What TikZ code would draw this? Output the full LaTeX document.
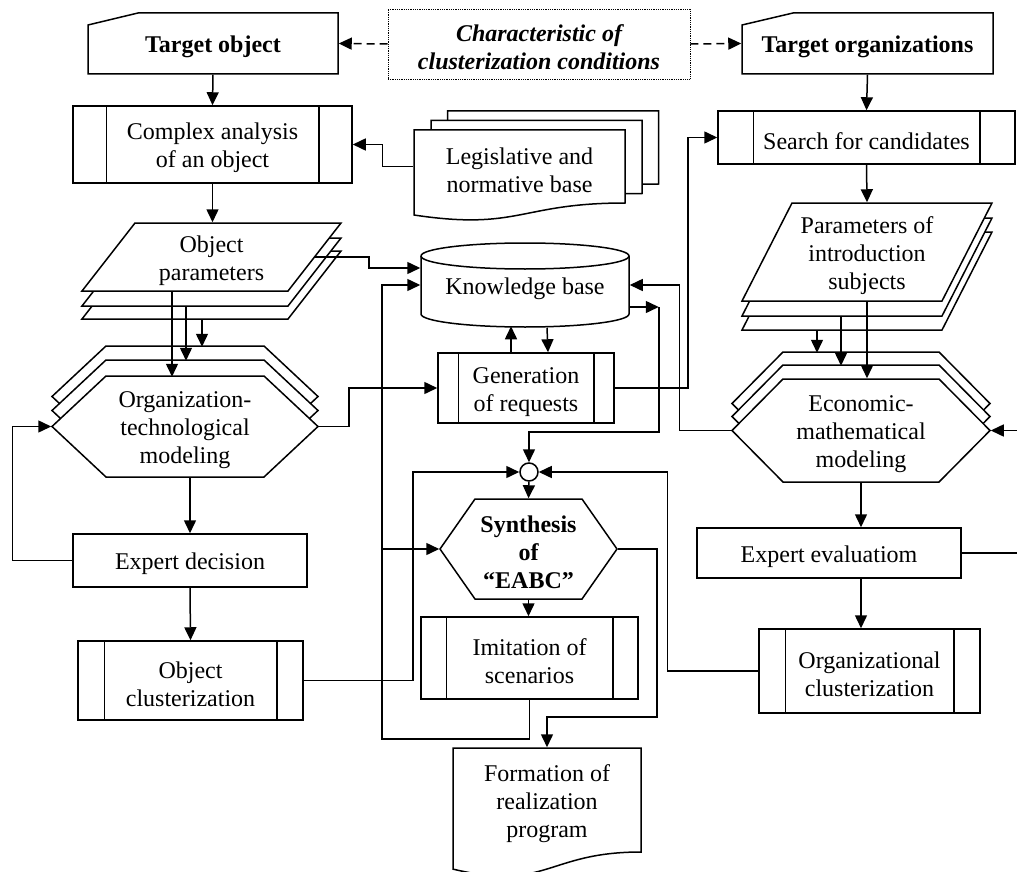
\documentclass[tikz,border=0pt]{standalone}
\usepackage{fontspec}
\setmainfont{Liberation Serif}
\usetikzlibrary{arrows.meta,calc}
\newcommand\hexshape[5]{%
  \draw[shp] (#1,{(#3+#4)/2}) -- ({#1+#5},#3) -- ({#2-#5},#3) -- (#2,{(#3+#4)/2}) -- ({#2-#5},#4) -- ({#1+#5},#4) -- cycle;}
\newcommand\pgram[5]{%
  \draw[shp] (#1,#4) -- ({#1+#5},#3) -- ({#2+#5},#3) -- (#2,#4) -- cycle;}
\newcommand\docshape[4]{%
  \draw[shp] (#1,#3) -- (#2,#3) -- (#2,{#3+#4}) .. controls ({(#1+#2)/2},{#3+#4}) and ({(#1+#2)/2},{#3+1.381*#4}) .. (#1,{#3+1.1646*#4}) -- cycle;}
\newcommand\bars[2]{%
  \draw ([xshift=#2pt]#1.north west) -- ([xshift=#2pt]#1.south west)
        ([xshift=-#2pt]#1.north east) -- ([xshift=-#2pt]#1.south east);}
\newcommand\tp{\rule{0pt}{24pt}}
\begin{document}
\begin{tikzpicture}[x=1pt,y=-1pt,
  line width=1.5pt,
  shp/.style={draw,fill=white,line join=miter},
  arr/.style={-{Triangle[length=13pt,width=12pt]}},
  darr/.style={arr,dash pattern=on 8pt off 5pt},
  lbl/.style={inner sep=0pt,align=center,font=\fontsize{24}{28}\selectfont},
  bflbl/.style={lbl,font=\fontsize{24}{28}\selectfont\bfseries},
  box/.style={lbl,draw,fill=white},
]
\useasboundingbox (0,0) rectangle (1017,872);
\fill[white] (0,0) rectangle (1017,872);

% ---- drawn shapes ----
% cards
\draw[shp] (88,74) -- (88,25) -- (138,13) -- (338,13) -- (338,74) -- cycle;
\draw[shp] (742,74) -- (742,25) -- (793,13) -- (993,13) -- (993,74) -- cycle;
% legislative document stack
\begin{scope}[xshift=33.5pt,yshift=19pt]\docshape{414}{625}{130}{73}\end{scope}
\begin{scope}[xshift=17pt,yshift=9.5pt]\docshape{414}{625}{130}{73}\end{scope}
\docshape{414}{625}{130}{73}
% object parameters stack
\begin{scope}[yshift=-28pt]\pgram{82}{288}{223}{291}{53}\end{scope}
\begin{scope}[yshift=-15pt]\pgram{82}{288}{223}{291}{53}\end{scope}
\pgram{82}{288}{223}{291}{53}
% organization-technological hexagon stack
\begin{scope}[yshift=30pt]\hexshape{52}{318}{376}{477}{54}\end{scope}
\begin{scope}[yshift=16pt]\hexshape{52}{318}{376}{477}{54}\end{scope}
\hexshape{52}{318}{376}{477}{54}
% knowledge base cylinder
\draw[shp] (421,256) -- (421,314) arc[start angle=180,end angle=360,x radius=104pt,y radius=13pt]
  -- (629,256) arc[start angle=0,end angle=180,x radius=104pt,y radius=13pt] -- cycle;
\draw (421,256) arc[start angle=180,end angle=360,x radius=104pt,y radius=13pt];
% parameters of introduction subjects stack
\begin{scope}[yshift=-29pt]\pgram{742}{942}{203}{301}{50}\end{scope}
\begin{scope}[yshift=-15pt]\pgram{742}{942}{203}{301}{50}\end{scope}
\pgram{742}{942}{203}{301}{50}
% economic-mathematical hexagon stack
\begin{scope}[yshift=27pt]\hexshape{732}{990}{379}{482}{51}\end{scope}
\begin{scope}[yshift=14pt]\hexshape{732}{990}{379}{482}{51}\end{scope}
\hexshape{732}{990}{379}{482}{51}
% synthesis hexagon
\hexshape{440}{617}{499}{599}{35}
% formation document
\docshape{453}{641}{748}{104}

% ---- nodes ----
\node[bflbl,minimum width=250pt,minimum height=61pt] (tobj) at (213,43.5) {\tp Target object};
\node[bflbl,minimum width=251pt,minimum height=61pt] (torg) at (867.5,43.5) {\tp Target organizations};
\node[lbl,draw,fill=white,densely dotted,line width=0.8pt,minimum width=302pt,minimum height=70pt,
  font=\fontsize{24}{28}\selectfont\bfseries\itshape] (tchar) at (539,44) {\tp Characteristic of\\clusterization conditions};

\node[box,minimum width=279pt,minimum height=77pt] (ca) at (212.5,144.5) {\tp Complex analysis\\of an object};
\bars{ca}{34}
\node[lbl,minimum width=211pt,minimum height=73pt] (leg) at (519.5,166.5) {\tp Legislative and\\normative base};
\node[lbl,minimum width=206pt,minimum height=68pt] (op) at (211.5,257) {\tp Object\\parameters};
\node[lbl,minimum width=266pt,minimum height=101pt] (otm) at (185,426.5) {\tp Organization-\\technological\\modeling};
\node[box,minimum width=234pt,minimum height=53pt] (ed) at (190,560.5) {\tp Expert decision};
\node[box,minimum width=225pt,minimum height=79pt] (oc) at (190.5,680.5) {\tp Object\\clusterization};
\bars{oc}{27}

\node[lbl,minimum width=208pt,minimum height=58pt] (kb) at (525,285) {\tp Knowledge base};
\node[box,minimum width=176pt,minimum height=70pt] (gen) at (526,388) {\tp Generation\\of requests};
\bars{gen}{21}
\node[draw,fill=white,circle,minimum size=18pt,inner sep=0pt] (circ) at (529,472) {};
\node[bflbl,minimum width=177pt,minimum height=100pt] (syn) at (528.5,549) {\tp Synthesis\\of\\“EABC”};
\node[box,minimum width=217pt,minimum height=82pt] (im) at (529.5,658) {\tp Imitation of\\scenarios};
\bars{im}{26}
\node[lbl,minimum width=188pt,minimum height=104pt] (form) at (547,800) {\tp Formation of\\realization\\program};

\node[box,minimum width=297pt,minimum height=53pt] (sfc) at (866.5,137.5) {\tp Search for candidates};
\bars{sfc}{36}
\node[lbl,minimum width=200pt,minimum height=98pt] (pis) at (867,252) {\tp Parameters of\\introduction\\subjects};
\node[lbl,minimum width=258pt,minimum height=103pt] (econ) at (861,430.5) {\tp Economic-\\mathematical\\modeling};
\node[box,minimum width=264pt,minimum height=50pt] (ee) at (829,553) {\tp Expert evaluatiom};
\node[box,minimum width=221pt,minimum height=84pt] (oclu) at (869.5,671) {\tp Organizational\\clusterization};
\bars{oclu}{27}

\coordinate (bus) at (382,285);
\coordinate (kbc) at ([xshift=29pt,yshift=-22pt]kb.east);
\coordinate (re1) at (1017,430.5);
\coordinate (re2) at (1017,553);

% ---- connectors ----
\draw[darr] (tchar.west) -- (tobj.east);
\draw[darr] (tchar.east) -- (torg.west);
\draw[arr] (tobj.south) -- (ca.north);
\draw[arr] (leg.west) -- ++(-31,0) |- (ca.east);
\draw[arr] (ca.south) -- (ca.south |- op.north);
\draw[arr] (op.east) -- ++(53.5,0) |- ([yshift=17pt]kb.west);
\draw[arr] ([xshift=-39.5pt]op.south) -- ++(0,85);
\draw[arr] ([xshift=-25.5pt,yshift=-15pt]op.south) -- ++(0,54);
\draw[arr] ([xshift=-9.5pt,yshift=-28pt]op.south) -- ++(0,27);
\draw[arr] (ed.west) -- ++(-60,0) |- (otm.west);
\draw[arr] (otm.east) -- ++(30,0) |- (gen.west);
\draw[arr] (ed.north |- otm.south) -- (ed.north);
\draw[arr] (ed.south) -- (oc.north);
\draw[arr] ([xshift=-15pt]gen.north) -- ++(0,-26);
\draw[arr] ([xshift=22pt,yshift=-13pt]kb.south) -- ([xshift=22pt]gen.north);
\draw[arr] (gen.east) -- ++(73,0) |- (sfc.west);
\draw[arr] ([yshift=-22pt]kb.east) -- (kbc);
\draw[arr] (kbc) -- ++(0,125) -| (circ.north);
\draw[arr] (econ.west) -- ++(-52,0) |- (kb.east);
\draw[arr] (oc.east) -- ++(109,0) |- (circ.west);
\draw[arr] (oclu.west) -- ++(-91,0) |- (circ.east);
\draw[arr] (circ.south) -- (syn.north);
\draw[arr] (syn.south) -- (syn.south |- im.north);
\draw[arr] (im.south) -- ++(0,39) -| (bus) -- (kb.west);
\draw[arr] (bus |- syn.west) -- (syn.west);
\draw[arr] (syn.east) -- ++(39,0) -- ++(0,168) -| (form.north);
\draw[arr] (torg.south) -- (sfc.north);
\draw[arr] (sfc.south) -- (pis.north);
\draw[arr] (pis.south) -- (pis.south |- econ.north);
\draw[arr] ([xshift=-26pt,yshift=-15pt]pis.south) -- ++(0,49);
\draw[arr] ([xshift=-50pt,yshift=-29pt]pis.south) -- ++(0,22);
\draw[arr] (re1) -- (econ.east);
\draw[arr] (econ.south) -- (econ.south |- ee.north);
\draw (ee.east) -- (re2);
\draw[arr] (econ.south |- ee.south) -- (econ.south |- oclu.north);
\end{tikzpicture}
\end{document}
